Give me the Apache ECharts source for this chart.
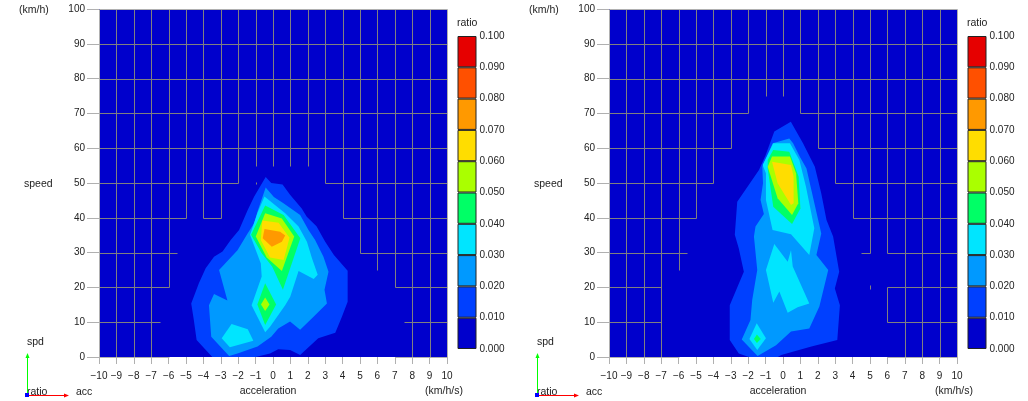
<!DOCTYPE html>
<html><head><meta charset="utf-8">
<style>html,body{margin:0;padding:0;background:#fff}#c{width:1028px;height:401px}</style>
<script src="https://cdn.jsdelivr.net/npm/echarts@6/dist/echarts.min.js"></script>
</head><body><div id="c"></div>
<script>
// Tick values
const accTicks = [-10,10];
const spdTicks = [0,100];
const ratioLevels = [0,0.01,0.02,0.03,0.04,0.05,0.06,0.07,0.08,0.09];
const bandColors = ['#0000cc','#0040ff','#0099ff','#00e5ff','#00ff66','#aaff00','#ffdd00','#ff9900','#ff5000','#e60000'];

// Iso-ratio outlines: [acceleration km/h/s, speed km/h]; bandIdx = index in ratioLevels
const left010 = [[-.42,51.7],[-.1,50],[.55,49.6],[.98,46.6],[1.65,42.7],[1.94,40.3],[2.5,37.6],[3,33.1],[3.5,29.3],[4.29,24.8],[4.29,15.9],[3.96,11.6],[3.58,7],[2.6,5.4],[1.56,.6],[.98,2],[.3,2.2],[-.17,1],[-1,0],[-3.49,0],[-4.39,4.9],[-4.55,10.6],[-4.7,15.4],[-4.26,21.2],[-3.87,25.5],[-3.39,28.8],[-2.9,30.3],[-2.43,33.6],[-1.95,36.5],[-1.46,42.2],[-1.08,46.1]];
const left020 = [[-.42,48.7],[.05,46],[.6,44.2],[1.56,40.8],[2.04,36.5],[2.42,33.6],[2.9,28.8],[3.19,24.5],[2.96,19.3],[3.1,15.4],[2.33,11.6],[1.56,7.8],[.98,10.2],[.3,8.2],[-.1,5.8],[-.89,3],[-2.04,1],[-2.52,.3],[-3.55,5.8],[-3.68,14.9],[-3.39,18.1],[-2.62,16.2],[-3.1,25],[-2.04,30.7],[-1.46,35.5],[-1.08,38.4],[-.89,41.8]];
const left030a = [[-.49,46.1],[.7,41.3],[1.47,37.5],[1.95,33.1],[2.24,28.4],[2.57,23.6],[2.34,22.4],[1.47,24.7],[.99,17.3],[.7,14.9],[-.17,8.7],[-.45,7.1],[-1.23,14.9],[-.65,23.1],[-.7,26.9],[-1.32,35.1],[-.9,41.3]];
const left030b = [[-2.95,5.4],[-2.38,9.5],[-1.45,8],[-1.13,4.7],[-2.48,2.8]];
const left040a = [[-.45,43.5],[.61,40.8],[1.57,34.1],[.57,19.3],[-.05,26],[-.65,29.8],[-1.26,35.1]];
const left040b = [[-.45,21.2],[.18,15.1],[-.45,9.2],[-.9,15.1]];
const left050a = [[-.45,41.3],[.51,39.8],[1.22,34.6],[.51,24.7],[-.36,28.6],[-.99,34.6]];
const left050b = [[-.45,17.1],[-.2,15.1],[-.45,13.2],[-.69,15.1]];
const left060 = [[-.61,39.2],[.32,38.6],[.95,34.3],[.61,27.9],[-.17,28.6],[-.7,33.6]];
const left070 = [[-.49,36.8],[.41,36],[.7,34.9],[.51,33.1],[-.07,31.7],[-.59,34.1]];
const leftOutlines = [[1,left010],[2,left020],[3,left030a],[3,left030b],[4,left040a],[4,left040b],[5,left050a],[5,left050b],[6,left060],[7,left070]];

const right010 = [[.45,67.6],[1.15,61.4],[1.83,54.7],[2.2,47],[2.5,39.4],[2.88,34.6],[3.23,24.5],[2.98,19.7],[3.27,14.9],[3.12,4.9],[1.63,3],[-.1,.6],[-.3,0],[-1.96,0],[-2.54,1],[-3.06,4.9],[-3.06,14.9],[-2.25,24.5],[-2.54,31.2],[-2.77,35.1],[-2.63,44.6],[-1.38,53.7],[-1,58],[-.5,64.8]];
const right020 = [[-.59,61.4],[.36,62.8],[.58,61.4],[.96,57.6],[1.35,54.2],[1.63,48],[2.2,35.5],[1.92,29.3],[2.6,25],[2.09,14.5],[1.51,8.2],[.46,7.3],[-.4,3.4],[-1.46,.3],[-2.37,5],[-1.87,10.6],[-1.77,16.4],[-1.48,25],[-1.67,34.6],[-1.58,37.5],[-1.1,41.1],[-1.29,45.1],[-1.15,49.9],[-1.19,54.7]];
const right030a = [[-.56,61.4],[.4,61.4],[.94,56.6],[1.32,48.9],[1.8,37],[1.51,29.3],[.46,35.3],[-.6,36.5],[-.98,45.1],[-.98,52.8],[-1.17,55.2]];
const right030b = [[-.5,32.5],[.27,27.4],[.46,30.7],[.56,26],[1.51,15.4],[.84,14.3],[.27,12.7],[-.21,18.8],[-.56,15.6],[-.98,25]];
const right030c = [[-1.51,9.7],[-.98,5.4],[-1.48,2],[-1.93,5.2]];
const right040a = [[-.56,59.5],[.36,59],[.9,51.8],[1,42.7],[.52,38.2],[-.56,43.2],[-.88,54.2],[-.88,56.6]];
const right040b = [[-1.5,6.5],[-1.28,5.2],[-1.5,4],[-1.67,5.2]];
const right050 = [[-.63,57.6],[.4,57.6],[.75,52.8],[.88,44.2],[.52,40.8],[-.31,45.6],[-.88,54.7]];
const right060 = [[-.63,56.1],[.46,55.2],[.61,51.8],[.61,44.2],[.46,43.7],[-.31,49.9]];
const rightOutlines = [[1,right010],[2,right020],[3,right030a],[3,right030b],[3,right030c],[4,right040a],[4,right040b],[5,right050],[6,right060]];

// Grid line runs that stay visible where the ratio is zero: [at, from, to]
const leftV = [[-9,0,100],[-8,0,100],[-7,0,100],[-6,20,100],[-5,40,100],[-4,40,100],[-3,40,100],[-2,50,100],[-1,55,100],[-1,49.6,50.4],[0,55,100],[1,55,100],[2,55,100],[3,50,100],[4,40,100],[5,30,100],[6,25,100],[7,20,100],[8,0,100],[9,0,100]];
const leftH = [[90,-10,10],[80,-10,10],[70,-10,10],[60,-10,10],[50,-10,-2],[50,3,10],[40,-10,-5],[40,-4,-3],[40,4,10],[30,-10,-5.5],[30,5,10],[20,-10,-6],[20,7,10],[10,-10,-6.5],[10,7.5,10]];
const leftFrameH = [[100,-10,10],[0,-10,-6],[0,7,10]];
const rightV = [[-9,0,100],[-8,0,100],[-7,0,100],[-6,25,100],[-5,40,100],[-4,50,100],[-3,60,100],[-2,70,100],[-1,75,100],[0,75,100],[1,70,100],[2,60,100],[3,50,100],[4,40,100],[5,30,100],[5,19.4,20.6],[6,30,100],[6,10,20],[7,0,100],[8,0,100],[9,0,100]];
const rightH = [[90,-10,10],[80,-10,10],[70,-10,-2],[70,1,10],[60,-10,-3],[60,2,10],[50,-10,-4],[50,3,10],[40,-10,-5],[40,4,10],[30,-10,-5.5],[30,4.5,5],[30,6,10],[20,-10,-7],[20,6,10],[10,-10,-7],[10,6,10]];
const rightFrameH = [[100,-10,10],[0,-10,-6],[0,6,10]];
const frameV = [[-10,0,100],[10,0,100]];

const FONT = '"Liberation Sans", Arial, sans-serif';
const TXT = '#222';
const TICK = '#b0b0b0';
const GRIDC = '#808080';

function segs(v,h){ return [...v.map(r=>[r[0],r[1],r[0],r[2]]),...h.map(r=>[r[1],r[0],r[2],r[0]])]; }
const snap = p => Math.round(p)+0.5;

function polySeries(idx,outlines){
  return {type:'custom',xAxisIndex:idx,yAxisIndex:idx,clip:true,silent:true,z:3,
    data:outlines.map((o,i)=>[i]),
    renderItem:(p,api)=>{const o=outlines[api.value(0)];
      return {type:'polygon',shape:{points:o[1].map(q=>api.coord(q))},style:{fill:bandColors[o[0]]}};}};
}
function lineSeries(idx,list,color,z){
  return {type:'custom',xAxisIndex:idx,yAxisIndex:idx,clip:false,silent:true,z:z,
    data:list.map((s,i)=>[i]),
    renderItem:(p,api)=>{const s=list[api.value(0)];const a=api.coord([s[0],s[1]]),b=api.coord([s[2],s[3]]);
      return {type:'line',shape:{x1:snap(a[0]),y1:snap(a[1]),x2:snap(b[0]),y2:snap(b[1])},style:{stroke:color,lineWidth:1}};}};
}
const PLOT=[99,609], BAR=[457.5,967.5];
const grid=[],xAxis=[],yAxis=[],series=[];
[0,1].forEach(k=>{
  grid.push({left:PLOT[k],top:9,width:348,height:348,show:true,backgroundColor:bandColors[0],borderWidth:0});
  xAxis.push({type:'value',gridIndex:k,min:accTicks[0],max:accTicks[1],interval:1,splitLine:{show:false},axisLine:{show:false,onZero:false},
    axisTick:{show:true,length:7,lineStyle:{color:TICK}},axisLabel:{margin:14,fontSize:10,fontFamily:FONT,color:TXT,hideOverlap:false,formatter:v=>String(v).replace('-','\u2212')}});
  yAxis.push({type:'value',gridIndex:k,min:spdTicks[0],max:spdTicks[1],interval:10,splitLine:{show:false},axisLine:{show:false,onZero:false},
    axisTick:{show:true,length:12,lineStyle:{color:TICK}},axisLabel:{margin:14,fontSize:10,fontFamily:FONT,color:TXT}});
  series.push(lineSeries(k,segs(k?rightV:leftV,k?rightH:leftH),GRIDC,2));
  series.push(lineSeries(k,segs(frameV,k?rightFrameH:leftFrameH),TICK,2));
  series.push(polySeries(k,k?rightOutlines:leftOutlines));
});
[0,1].forEach(k=>{
  const g=2+k;
  grid.push({left:BAR[k],top:36,width:19,height:313,show:false});
  xAxis.push({type:'category',gridIndex:g,data:['ratio'],show:false});
  yAxis.push({type:'value',gridIndex:g,min:0,max:0.1,interval:0.01,position:'right',splitLine:{show:false},
    axisLine:{show:false},axisTick:{show:false},
    axisLabel:{margin:3,fontSize:10,fontFamily:FONT,color:TXT,formatter:v=>v.toFixed(3)}});
  ratioLevels.forEach((lv,i)=>series.push({type:'bar',xAxisIndex:g,yAxisIndex:g,stack:'r'+k,barWidth:'100%',silent:true,
    data:[0.01],itemStyle:{color:bandColors[i],borderColor:'#222',borderWidth:1}}));
});
const T=(x,y,t,a)=>({type:'text',x:x,y:y,style:{text:t,font:'10.5px '+FONT,fill:TXT,textAlign:a||'left',textVerticalAlign:'middle'}});
const graphic=[];
[0,510].forEach(o=>{
  graphic.push(T(19+o,10,'(km/h)'),T(24+o,184,'speed'),T(425+o,391,'(km/h/s)'),T(268+o,391,'acceleration','center'),
    T(457+o,23,'ratio'),T(27+o,342,'spd'),T(27+o,392,'ratio'),T(76+o,392,'acc'));
  graphic.push({type:'line',shape:{x1:27.5+o,y1:395.5,x2:27.5+o,y2:356},style:{stroke:'#00ff00',lineWidth:1},z:5});
  graphic.push({type:'line',shape:{x1:27.5+o,y1:395.5,x2:66+o,y2:395.5},style:{stroke:'#ff0000',lineWidth:1},z:5});
  graphic.push({type:'polygon',shape:{points:[[27.5+o,353],[25.5+o,358],[29.5+o,358]]},style:{fill:'#00ff00'},z:5});
  graphic.push({type:'polygon',shape:{points:[[69+o,395.5],[64+o,393.5],[64+o,397.5]]},style:{fill:'#ff0000'},z:5});
  graphic.push({type:'rect',shape:{x:25+o,y:393,width:4,height:4},style:{fill:'#0000ff'},z:6});
});
const chart=echarts.init(document.getElementById('c'),null,{renderer:'canvas'});
chart.setOption({animation:false,backgroundColor:'#fff',grid,xAxis,yAxis,series,graphic,tooltip:{show:false}});
</script></body></html>
